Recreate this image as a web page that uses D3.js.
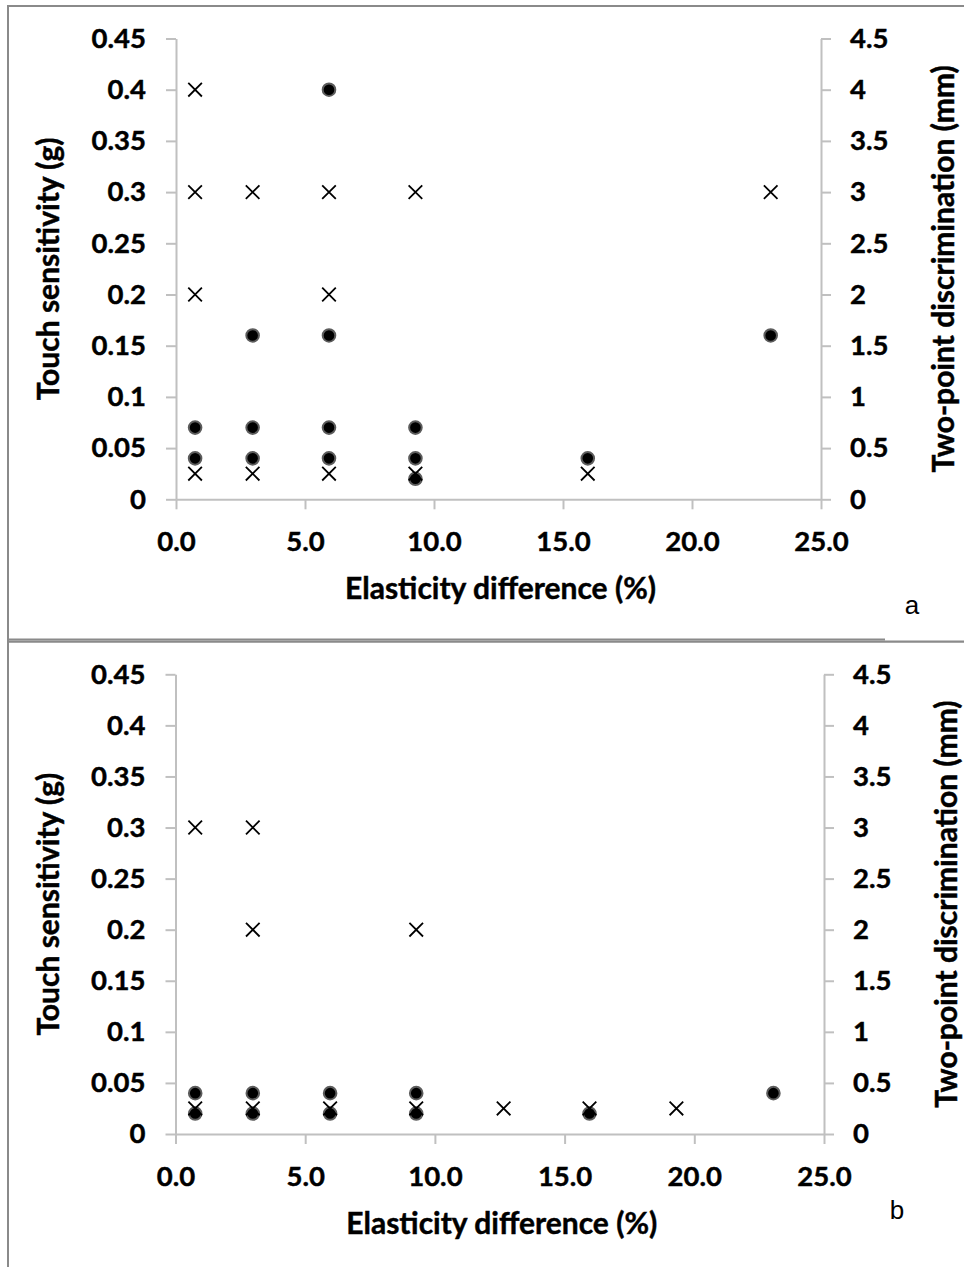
<!DOCTYPE html>
<html>
<head>
<meta charset="utf-8">
<script src="https://cdn.jsdelivr.net/npm/d3@7"></script>
<style>
  html, body { margin: 0; padding: 0; background: #fff; }
  svg { display: block; }
  .tick text { font-family: Lato, "Open Sans", sans-serif; font-weight: 700; font-size: 27.5px; fill: #000; stroke: #000; stroke-width: 0.45px; }
  .title { font-family: Lato, "Open Sans", sans-serif; font-weight: 700; font-size: 30px; fill: #000; stroke: #000; stroke-width: 0.45px; }
  .panel-tag { font-family: "Liberation Sans", Arial, sans-serif; font-size: 26px; fill: #000; }
</style>
</head>
<body>
<script>
// Elasticity difference (%) vs touch sensitivity (g, left axis, dots)
// and two-point discrimination (mm, right axis, crosses), panels a and b.

// Tick labels
const xTickValues = [0, 5, 10, 15, 20, 25];
const xTickLabels = ["0.0", "5.0", "10.0", "15.0", "20.0", "25.0"];
const touchTickValues = [0, 0.05, 0.1, 0.15, 0.2, 0.25, 0.3, 0.35, 0.4, 0.45];
const touchTickLabels = ["0", "0.05", "0.1", "0.15", "0.2", "0.25", "0.3", "0.35", "0.4", "0.45"];
const tpdTickValues = [0, 0.5, 1, 1.5, 2, 2.5, 3, 3.5, 4, 4.5];
const tpdTickLabels = ["0", "0.5", "1", "1.5", "2", "2.5", "3", "3.5", "4", "4.5"];

// Panel a: touch sensitivity (g)
const aTouchX = [0.74, 0.74, 2.97, 2.97, 2.97, 5.93, 5.93, 5.93, 5.93, 9.28, 9.28, 9.28, 15.96, 23.05];
const aTouchY = [0.07, 0.04, 0.16, 0.07, 0.04, 0.4, 0.16, 0.07, 0.04, 0.07, 0.04, 0.02, 0.04, 0.16];
// Panel a: two-point discrimination (mm)
const aTpdX = [0.74, 0.74, 0.74, 0.74, 2.97, 2.97, 5.93, 5.93, 5.93, 9.28, 9.28, 15.96, 23.05];
const aTpdY = [4, 3, 2, 0.25, 3, 0.25, 3, 2, 0.25, 3, 0.25, 0.25, 3];

// Panel b: touch sensitivity (g)
const bTouchX = [0.76, 0.76, 2.98, 2.98, 5.96, 5.96, 9.28, 9.28, 15.96, 23.05];
const bTouchY = [0.04, 0.02, 0.04, 0.02, 0.04, 0.02, 0.04, 0.02, 0.02, 0.04];
// Panel b: two-point discrimination (mm)
const bTpdX = [0.76, 0.76, 2.98, 2.98, 2.98, 5.96, 9.28, 9.28, 12.65, 15.96, 19.31];
const bTpdY = [3, 0.25, 3, 2, 0.25, 0.25, 2, 0.25, 0.25, 0.25, 0.25];

const W = 964, H = 1267;
const svg = d3.select("body").append("svg").attr("width", W).attr("height", H);

// Panel frames
const frame = "#8a8a8a";
svg.append("line").attr("x1", 7).attr("x2", W).attr("y1", 6).attr("y2", 6)
  .attr("stroke", frame).attr("stroke-width", 2);
svg.append("line").attr("x1", 8).attr("x2", 8).attr("y1", 5).attr("y2", H)
  .attr("stroke", frame).attr("stroke-width", 2);
svg.append("line").attr("x1", 7).attr("x2", 885).attr("y1", 639.5).attr("y2", 639.5)
  .attr("stroke", frame).attr("stroke-width", 2);
svg.append("line").attr("x1", 7).attr("x2", W).attr("y1", 641.6).attr("y2", 641.6)
  .attr("stroke", frame).attr("stroke-width", 2.2);

const axisColor = "#c0c0c0";

function drawPanel(p) {
  const g = svg.append("g");
  const x = d3.scaleLinear().domain([0, 25]).range([p.left, p.right]);
  const yL = d3.scaleLinear().domain([0, 0.45]).range([p.bottom, p.top]);
  const yR = d3.scaleLinear().domain([0, 4.5]).range([p.bottom, p.top]);

  const style = sel => {
    sel.select(".domain").attr("stroke", axisColor).attr("stroke-width", 2);
    sel.selectAll(".tick line").attr("stroke", axisColor).attr("stroke-width", 2);
  };

  g.append("g").attr("transform", `translate(0,${p.bottom})`)
    .call(d3.axisBottom(x).tickValues(xTickValues)
      .tickFormat((d, i) => xTickLabels[i]).tickSize(10).tickSizeOuter(0).tickPadding(22))
    .call(style);

  g.append("g").attr("transform", `translate(${p.left},0)`)
    .call(d3.axisLeft(yL).tickValues(touchTickValues)
      .tickFormat((d, i) => touchTickLabels[i]).tickSize(10).tickSizeOuter(0).tickPadding(20))
    .call(style);

  g.append("g").attr("transform", `translate(${p.right},0)`)
    .call(d3.axisRight(yR).tickValues(tpdTickValues)
      .tickFormat((d, i) => tpdTickLabels[i]).tickSize(10).tickSizeOuter(0).tickPadding(19))
    .call(style);

  g.selectAll(".tick text").attr("font-family", null).attr("font-size", null);

  // Touch sensitivity: filled dots
  g.append("g").selectAll("circle")
    .data(p.touchX.map((v, i) => [v, p.touchY[i]]))
    .join("circle")
    .attr("cx", d => x(d[0])).attr("cy", d => yL(d[1]))
    .attr("r", 6.3)
    .attr("fill", "#000").attr("stroke", "#5c5c5c").attr("stroke-width", 2);

  // Two-point discrimination: crosses
  const s = 6.8;
  g.append("g").selectAll("path")
    .data(p.tpdX.map((v, i) => [v, p.tpdY[i]]))
    .join("path")
    .attr("transform", d => `translate(${x(d[0])},${yR(d[1])})`)
    .attr("d", `M${-s},${-s}L${s},${s}M${-s},${s}L${s},${-s}`)
    .attr("stroke", "#000").attr("stroke-width", 1.8).attr("fill", "none");

  // Axis titles
  g.append("text").attr("class", "title")
    .attr("x", (p.left + p.right) / 2 + 2).attr("y", p.bottom + 89).attr("dy", "0.35em")
    .attr("text-anchor", "middle").text("Elasticity difference (%)");
  g.append("text").attr("class", "title")
    .attr("transform", `translate(48,${(p.top + p.bottom) / 2}) rotate(-90)`)
    .attr("dy", "0.35em").attr("text-anchor", "middle").text("Touch sensitivity (g)");
  g.append("text").attr("class", "title")
    .attr("transform", `translate(${p.right + 122},${(p.top + p.bottom) / 2}) rotate(-90)`)
    .attr("dy", "0.35em").attr("text-anchor", "middle").text("Two-point discrimination (mm)");

  g.append("text").attr("class", "panel-tag")
    .attr("x", p.tagX).attr("y", p.tagY).attr("dy", "0.35em")
    .attr("text-anchor", "middle").text(p.tag);
}

drawPanel({ left: 176, right: 821, top: 38.5, bottom: 499.3,
  touchX: aTouchX, touchY: aTouchY, tpdX: aTpdX, tpdY: aTpdY,
  tag: "a", tagX: 912, tagY: 605 });
drawPanel({ left: 175.5, right: 824, top: 674.3, bottom: 1134,
  touchX: bTouchX, touchY: bTouchY, tpdX: bTpdX, tpdY: bTpdY,
  tag: "b", tagX: 897, tagY: 1210 });
</script>
</body>
</html>
